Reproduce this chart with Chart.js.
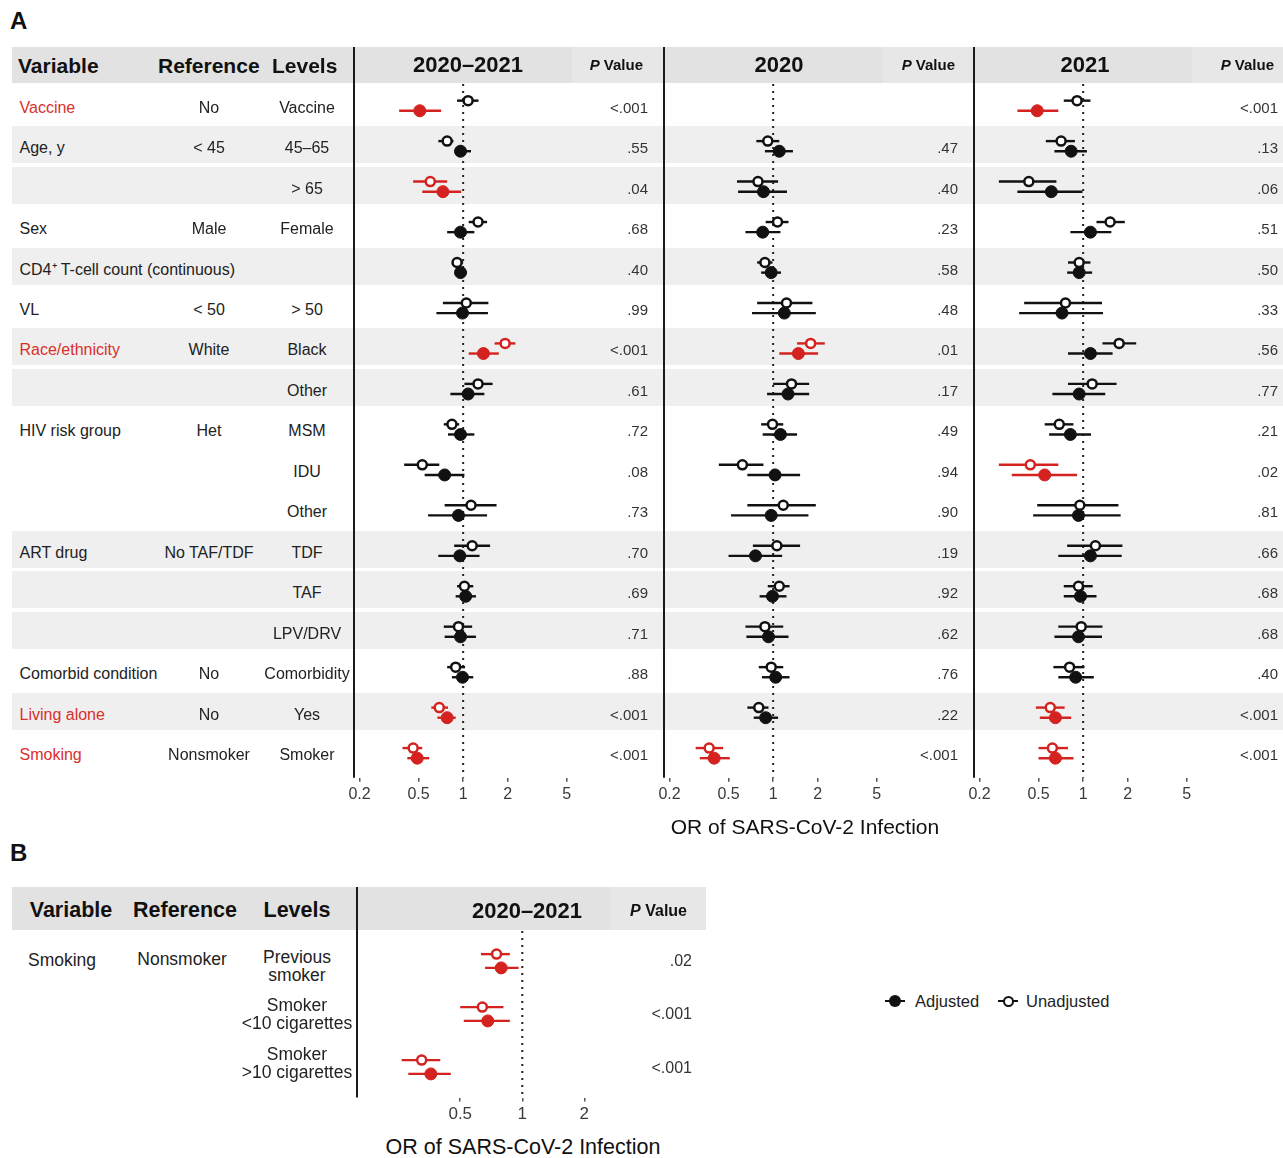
<!DOCTYPE html>
<html>
<head>
<meta charset="utf-8">
<script src="https://cdn.jsdelivr.net/npm/chart.js@4.4.1/dist/chart.umd.min.js"></script>
<style>
  body { margin: 0; background: #fff; font-family: "Liberation Sans", Arial, Helvetica, sans-serif; color: #222; }
  #page { position: relative; width: 1283px; height: 1158px; overflow: hidden; }
  .band { position: absolute; }
  .t { position: absolute; white-space: nowrap; line-height: 1; z-index: 3; }
  .plot { position: absolute; z-index: 2; }
</style>
</head>
<body>
<div id="page"></div>
<script>
// ---- data ----
const ROW_VARIABLES = ['Vaccine', 'Age, y', '', 'Sex', 'CD4⁺ T-cell count (continuous)', 'VL', 'Race/ethnicity', '',
  'HIV risk group', '', '', 'ART drug', '', '', 'Comorbid condition', 'Living alone', 'Smoking'];
const ROW_REFERENCES = ['No', '< 45', '', 'Male', '', '< 50', 'White', '', 'Het', '', '', 'No TAF/TDF', '', '', 'No', 'No', 'Nonsmoker'];
const ROW_LEVELS = ['Vaccine', '45–65', '> 65', 'Female', '', '> 50', 'Black', 'Other', 'MSM', 'IDU', 'Other',
  'TDF', 'TAF', 'LPV/DRV', 'Comorbidity', 'Yes', 'Smoker'];
const HIGHLIGHT_VARIABLES = ['Vaccine', 'Race/ethnicity', 'Living alone', 'Smoking'];

const PERIODS = ['2020–2021', '2020', '2021'];

// 2020–2021
const ADJ_OR_2020_21 = [0.51, 0.96, 0.73, 0.96, 0.96, 0.99, 1.37, 1.08, 0.96, 0.75, 0.93, 0.95, 1.04, 0.96, 0.99, 0.78, 0.49];
const ADJ_LO_2020_21 = [0.37, 0.88, 0.53, 0.78, 0.89, 0.66, 1.09, 0.82, 0.79, 0.55, 0.58, 0.68, 0.89, 0.75, 0.84, 0.67, 0.42];
const ADJ_HI_2020_21 = [0.71, 1.13, 0.97, 1.19, 1.06, 1.47, 1.74, 1.39, 1.19, 1.02, 1.45, 1.29, 1.22, 1.22, 1.17, 0.89, 0.59];
const UNADJ_OR_2020_21 = [1.08, 0.78, 0.60, 1.26, 0.91, 1.05, 1.92, 1.26, 0.84, 0.53, 1.13, 1.15, 1.02, 0.93, 0.89, 0.69, 0.46];
const UNADJ_LO_2020_21 = [0.91, 0.68, 0.46, 1.09, 0.85, 0.73, 1.63, 1.02, 0.74, 0.40, 0.75, 0.87, 0.91, 0.74, 0.78, 0.61, 0.39];
const UNADJ_HI_2020_21 = [1.27, 0.86, 0.78, 1.45, 1.00, 1.48, 2.25, 1.58, 0.94, 0.69, 1.68, 1.52, 1.17, 1.15, 1.03, 0.79, 0.53];
const P_2020_21 = ['<.001', '.55', '.04', '.68', '.40', '.99', '<.001', '.61', '.72', '.08', '.73', '.70', '.69', '.71', '.88', '<.001', '<.001'];

// 2020
const ADJ_OR_2020 = [null, 1.10, 0.86, 0.85, 0.97, 1.19, 1.48, 1.26, 1.12, 1.03, 0.97, 0.76, 0.99, 0.93, 1.04, 0.89, 0.40];
const ADJ_LO_2020 = [null, 0.88, 0.58, 0.65, 0.83, 0.72, 1.10, 0.91, 0.85, 0.67, 0.52, 0.50, 0.81, 0.66, 0.84, 0.74, 0.32];
const ADJ_HI_2020 = [null, 1.36, 1.24, 1.12, 1.13, 1.94, 2.01, 1.75, 1.45, 1.52, 1.73, 1.15, 1.23, 1.27, 1.29, 1.08, 0.51];
const UNADJ_OR_2020 = [null, 0.92, 0.79, 1.07, 0.88, 1.23, 1.79, 1.33, 0.99, 0.62, 1.17, 1.06, 1.10, 0.88, 0.97, 0.80, 0.37];
const UNADJ_LO_2020 = [null, 0.77, 0.57, 0.89, 0.78, 0.78, 1.45, 1.00, 0.83, 0.43, 0.67, 0.73, 0.92, 0.65, 0.80, 0.67, 0.30];
const UNADJ_HI_2020 = [null, 1.10, 1.08, 1.27, 0.99, 1.84, 2.23, 1.75, 1.17, 0.86, 1.94, 1.52, 1.29, 1.17, 1.17, 0.93, 0.46];
const P_2020 = ['', '.47', '.40', '.23', '.58', '.48', '.01', '.17', '.49', '.94', '.90', '.19', '.92', '.62', '.76', '.22', '<.001'];

// 2021
const ADJ_OR_2021 = [0.49, 0.83, 0.61, 1.12, 0.94, 0.72, 1.12, 0.94, 0.82, 0.55, 0.93, 1.12, 0.96, 0.93, 0.89, 0.65, 0.65];
const ADJ_LO_2021 = [0.36, 0.64, 0.36, 0.82, 0.78, 0.37, 0.79, 0.62, 0.59, 0.33, 0.46, 0.68, 0.74, 0.64, 0.68, 0.51, 0.50];
const ADJ_HI_2021 = [0.68, 1.06, 0.99, 1.55, 1.15, 1.36, 1.58, 1.41, 1.13, 0.91, 1.79, 1.82, 1.23, 1.34, 1.18, 0.83, 0.86];
const UNADJ_OR_2021 = [0.91, 0.71, 0.43, 1.52, 0.94, 0.76, 1.75, 1.15, 0.69, 0.44, 0.95, 1.21, 0.93, 0.97, 0.81, 0.60, 0.62];
const UNADJ_LO_2021 = [0.74, 0.56, 0.27, 1.23, 0.79, 0.40, 1.35, 0.79, 0.55, 0.27, 0.49, 0.78, 0.74, 0.68, 0.63, 0.48, 0.50];
const UNADJ_HI_2021 = [1.12, 0.88, 0.66, 1.91, 1.12, 1.34, 2.28, 1.68, 0.86, 0.68, 1.73, 1.84, 1.16, 1.35, 1.02, 0.75, 0.79];
const P_2021 = ['<.001', '.13', '.06', '.51', '.50', '.33', '.56', '.77', '.21', '.02', '.81', '.66', '.68', '.68', '.40', '<.001', '<.001'];

const X_TICKS_A = [0.2, 0.5, 1, 2, 5];

// panel B: smoking detail
const B_VARIABLE = 'Smoking';
const B_REFERENCE = 'Nonsmoker';
const B_LEVELS = ['Previous\nsmoker', 'Smoker\n<10 cigarettes', 'Smoker\n>10 cigarettes'];
const B_ADJ_OR = [0.79, 0.68, 0.36];
const B_ADJ_LO = [0.66, 0.52, 0.28];
const B_ADJ_HI = [0.96, 0.87, 0.45];
const B_UNADJ_OR = [0.75, 0.64, 0.325];
const B_UNADJ_LO = [0.63, 0.50, 0.26];
const B_UNADJ_HI = [0.87, 0.81, 0.40];
const B_P = ['.02', '<.001', '<.001'];
const X_TICKS_B = [0.5, 1, 2];

const AXIS_TITLE = 'OR of SARS-CoV-2 Infection';

// ---- look ----
const RED = '#d3221f';
const TEXT_RED = '#d8302c';
const BLACK = '#111';
const FONT = '"Liberation Sans", Arial, Helvetica, sans-serif';
const page = document.getElementById('page');

function addBox(x, y, w, h, color) {
  const d = document.createElement('div');
  d.className = 'band';
  Object.assign(d.style, { left: x + 'px', top: y + 'px', width: w + 'px', height: h + 'px', background: color });
  page.appendChild(d);
  return d;
}

function addText(str, x, y, o = {}) {
  const d = document.createElement('div');
  d.className = 't';
  if (o.html) d.innerHTML = str; else d.textContent = str;
  d.style.left = x + 'px';
  d.style.top = y + 'px';
  d.style.fontSize = (o.size || 16) + 'px';
  if (o.bold) d.style.fontWeight = 'bold';
  d.style.color = o.color || '#222';
  if (o.lh) { d.style.lineHeight = o.lh + 'px'; d.style.whiteSpace = 'pre'; d.style.textAlign = 'center'; }
  const tx = o.align === 'center' ? '-50%' : o.align === 'right' ? '-100%' : '0';
  d.style.transform = `translate(${tx}, -50%)`;
  page.appendChild(d);
  return d;
}

function pNum(s) {
  if (!s) return NaN;
  return s[0] === '<' ? parseFloat(s.slice(1)) / 2 : parseFloat(s);
}
function markColor(p, lo, hi) {
  return p < 0.05 && (hi < 1 || lo > 1) ? RED : BLACK;
}

// error bars, reference line at OR = 1 and the left axis line
const forestPlugin = {
  id: 'forest',
  beforeDatasetsDraw(chart) {
    const { ctx, chartArea, scales: { x, y } } = chart;
    ctx.save();
    const x1 = x.getPixelForValue(1);
    ctx.strokeStyle = '#222';
    ctx.lineWidth = 2;
    ctx.setLineDash([2, 5]);
    ctx.beginPath();
    ctx.moveTo(x1, chartArea.top);
    ctx.lineTo(x1, chartArea.bottom);
    ctx.stroke();
    ctx.setLineDash([]);
    ctx.strokeStyle = '#1a1a1a';
    ctx.beginPath();
    ctx.moveTo(chartArea.left, 0);
    ctx.lineTo(chartArea.left, chartArea.bottom);
    ctx.stroke();
    ctx.lineWidth = 2.4;
    chart.data.datasets.forEach(ds => {
      ds.data.forEach((pt, i) => {
        const yp = y.getPixelForValue(pt.y);
        ctx.strokeStyle = ds.pointBorderColor[i];
        ctx.beginPath();
        ctx.moveTo(x.getPixelForValue(pt.lo), yp);
        ctx.lineTo(x.getPixelForValue(pt.hi), yp);
        ctx.stroke();
      });
    });
    ctx.restore();
  }
};

function buildDatasets(orA, loA, hiA, orU, loU, hiU, pv, off) {
  const adj = [], un = [], adjCol = [], unCol = [];
  orA.forEach((v, i) => {
    if (v == null) return;
    const p = pNum(pv[i]);
    adj.push({ x: v, y: i + 1 + off, lo: loA[i], hi: hiA[i] });
    adjCol.push(markColor(p, loA[i], hiA[i]));
    un.push({ x: orU[i], y: i + 1 - off, lo: loU[i], hi: hiU[i] });
    unCol.push(markColor(p, loU[i], hiU[i]));
  });
  return [
    { label: 'Unadjusted', data: un, pointRadius: 4.5, pointBackgroundColor: '#fff', pointBorderColor: unCol, pointBorderWidth: 2.5 },
    { label: 'Adjusted', data: adj, pointRadius: 6, pointBackgroundColor: adjCol, pointBorderColor: adjCol, pointBorderWidth: 1 }
  ];
}

function forestChart(box, datasets, xr, yr, ticks, tickSize, padTop) {
  const holder = document.createElement('div');
  holder.className = 'plot';
  Object.assign(holder.style, { left: box.left + 'px', top: box.top + 'px', width: box.width + 'px', height: box.height + 'px' });
  const canvas = document.createElement('canvas');
  holder.appendChild(canvas);
  page.appendChild(holder);
  return new Chart(canvas, {
    type: 'scatter',
    data: { datasets },
    options: {
      responsive: true,
      maintainAspectRatio: false,
      animation: false,
      events: [],
      layout: { padding: { left: 20, top: padTop, right: 0, bottom: 0 } },
      plugins: { legend: { display: false }, tooltip: { enabled: false } },
      scales: {
        x: {
          type: 'logarithmic',
          min: xr[0], max: xr[1],
          bounds: 'data',
          afterBuildTicks: s => { s.ticks = ticks.map(v => ({ value: v })); },
          ticks: { callback: v => String(v), autoSkip: false, maxRotation: 0, padding: 3, color: '#3a3a3a', font: { family: FONT, size: tickSize } },
          grid: { display: true, drawOnChartArea: false, drawTicks: true, tickLength: 4, color: '#555', lineWidth: 1.5 },
          border: { display: false }
        },
        y: { type: 'linear', display: false, reverse: true, min: yr[0], max: yr[1] }
      }
    },
    plugins: [forestPlugin]
  });
}

// ---- panel A ----
const A_ROW0 = 105.7, A_STEP = 40.46;
const rowCenter = i => A_ROW0 + A_STEP * i;

addText('A', 10, 21, { size: 24, bold: true, color: '#111' });
addBox(12, 47, 1271, 36, '#e2e2e2');

let group = -1;
ROW_VARIABLES.forEach((v, i) => {
  if (v) group++;
  if (group % 2 === 1) addBox(12, rowCenter(i) - 20, 1271, 37, '#efefef');
});

const PANELS_A = [
  { adj: [ADJ_OR_2020_21, ADJ_LO_2020_21, ADJ_HI_2020_21], un: [UNADJ_OR_2020_21, UNADJ_LO_2020_21, UNADJ_HI_2020_21], p: P_2020_21, left: 334, head: 468, pRight: 648, pHead: 643 },
  { adj: [ADJ_OR_2020, ADJ_LO_2020, ADJ_HI_2020], un: [UNADJ_OR_2020, UNADJ_LO_2020, UNADJ_HI_2020], p: P_2020, left: 644, head: 779, pRight: 958, pHead: 955 },
  { adj: [ADJ_OR_2021, ADJ_LO_2021, ADJ_HI_2021], un: [UNADJ_OR_2021, UNADJ_LO_2021, UNADJ_HI_2021], p: P_2021, left: 954, head: 1085, pRight: 1278, pHead: 1274 }
];

PANELS_A.forEach((pn, k) => {
  addBox(pn.left + 238, 47, 91, 36, '#e7e7e7');
  addText(PERIODS[k], pn.head, 65, { size: 22, bold: true, align: 'center', color: '#111' });
  addText('<i>P</i> Value', pn.pHead, 64, { size: 15, bold: true, align: 'right', color: '#111', html: true });
  pn.p.forEach((s, i) => { if (s) addText(s, pn.pRight, rowCenter(i) + 1, { size: 15, align: 'right', color: '#333' }); });
  const ds = buildDatasets(pn.adj[0], pn.adj[1], pn.adj[2], pn.un[0], pn.un[1], pn.un[2], pn.p, 0.125);
  forestChart({ left: pn.left, top: 47, width: 329, height: 760 }, ds, [0.1835, 20], [0.4637, 17.61], X_TICKS_A, 16, 37);
});

addText('Variable', 18, 65, { size: 21, bold: true, color: '#111' });
addText('Reference', 158, 65, { size: 21, bold: true, color: '#111' });
addText('Levels', 272, 65, { size: 21, bold: true, color: '#111' });

ROW_VARIABLES.forEach((v, i) => {
  const y = rowCenter(i) + 2;
  if (v) addText(v, 19.5, y, { size: 16, color: HIGHLIGHT_VARIABLES.includes(v) ? TEXT_RED : '#222' });
  if (ROW_REFERENCES[i]) addText(ROW_REFERENCES[i], 209, y, { size: 16, align: 'center' });
  if (ROW_LEVELS[i]) addText(ROW_LEVELS[i], 307, y, { size: 16, align: 'center' });
});

addText(AXIS_TITLE, 805, 826, { size: 21, align: 'center', color: '#111' });

// ---- panel B ----
addText('B', 10, 853, { size: 24, bold: true, color: '#111' });
addBox(12, 887, 694, 43, '#e2e2e2');
addBox(610, 887, 96, 43, '#e7e7e7');
addText('Variable', 71, 911, { size: 21.5, bold: true, align: 'center', color: '#111' });
addText('Reference', 185, 911, { size: 21.5, bold: true, align: 'center', color: '#111' });
addText('Levels', 297, 911, { size: 21.5, bold: true, align: 'center', color: '#111' });
addText(PERIODS[0], 527, 911, { size: 22, bold: true, align: 'center', color: '#111' });
addText('<i>P</i> Value', 687, 911, { size: 16, bold: true, align: 'right', color: '#111', html: true });

addText(B_VARIABLE, 28, 961, { size: 17.5 });
addText(B_REFERENCE, 182, 960, { size: 17.5, align: 'center' });
B_LEVELS.forEach((s, i) => addText(s, 297, 965.5 + 48.7 * i, { size: 17.5, align: 'center', lh: 18 }));
B_P.forEach((s, i) => addText(s, 692, 961 + 53.3 * i, { size: 16, align: 'right', color: '#333' }));

const dsB = buildDatasets(B_ADJ_OR, B_ADJ_LO, B_ADJ_HI, B_UNADJ_OR, B_UNADJ_LO, B_UNADJ_HI, B_P, 0.13);
forestChart({ left: 337, top: 887, width: 369, height: 241 }, dsB, [0.1578, 7.2], [0.434, 3.577], X_TICKS_B, 17, 44);

addText(AXIS_TITLE, 523, 1148, { size: 21.5, align: 'center', color: '#111' });

// ---- legend ----
function legendKey(cx, cy, filled) {
  addBox(cx - 10, cy - 1, 20, 2.4, BLACK).style.zIndex = 3;
  const r = filled ? 6 : 5.5;
  const c = addBox(cx - r, cy - r, 2 * r, 2 * r, filled ? BLACK : '#fff');
  c.style.borderRadius = '50%';
  c.style.zIndex = 4;
  c.style.boxSizing = 'border-box';
  if (!filled) c.style.border = '2.4px solid ' + BLACK;
}
legendKey(895, 1001, true);
addText('Adjusted', 915, 1001, { size: 16.5 });
legendKey(1008, 1001, false);
addText('Unadjusted', 1026, 1001, { size: 16.5 });
</script>
</body>
</html>
